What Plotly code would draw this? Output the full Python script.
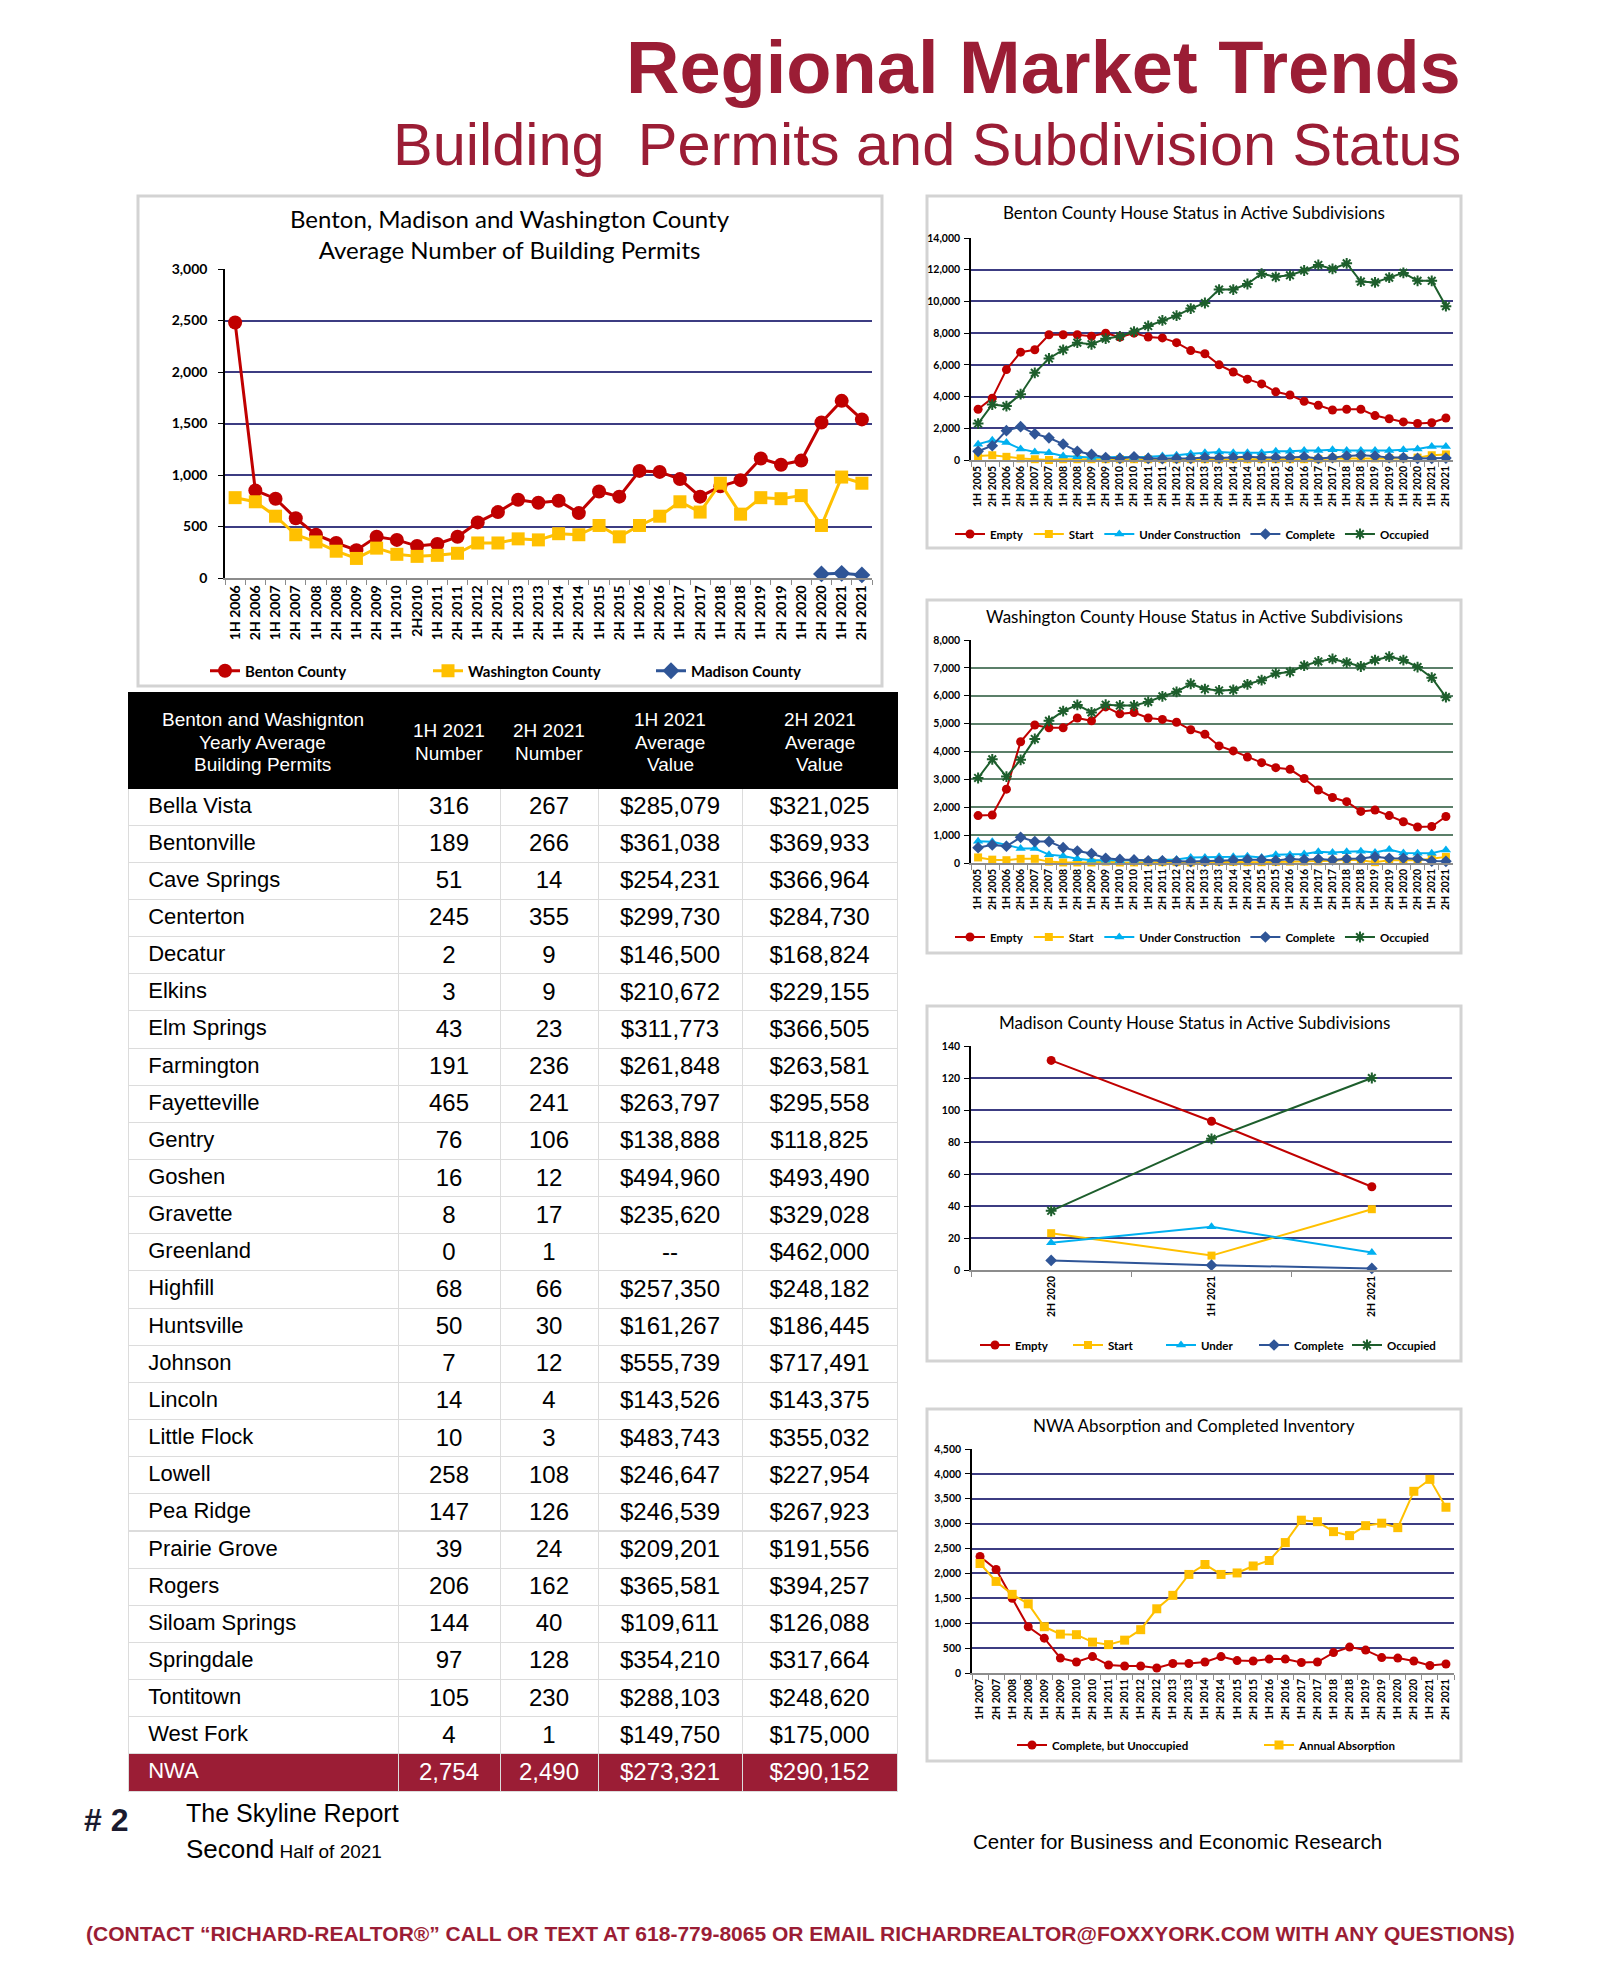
import plotly.graph_objects as go

W, H = 1600, 1962
BODY_MARGIN = 8  # the html page body adds an 8px margin around the plot div

# ---------------- data ----------------
PERMIT_PERIODS = [
    "1H 2006", "2H 2006", "1H 2007", "2H 2007", "1H 2008", "2H 2008", "1H 2009", "2H 2009",
    "1H 2010", "2H2010", "1H 2011", "2H 2011", "1H 2012", "2H 2012", "1H 2013", "2H 2013",
    "1H 2014", "2H 2014", "1H 2015", "2H 2015", "1H 2016", "2H 2016", "1H 2017", "2H 2017",
    "1H 2018", "2H 2018", "1H 2019", "2H 2019", "1H 2020", "2H 2020", "1H 2021", "2H 2021",
]
BENTON_PERMITS = [2480, 850, 770, 580, 420, 340, 270, 400, 370, 310, 330, 400, 540, 640, 760, 730,
                  750, 630, 840, 790, 1040, 1030, 960, 790, 890, 950, 1160, 1100, 1140, 1510, 1720, 1540]
WASHINGTON_PERMITS = [780, 740, 600, 420, 350, 260, 190, 290, 230, 210, 220, 240, 340, 340, 380, 370,
                      430, 420, 510, 400, 510, 600, 740, 640, 920, 620, 780, 770, 800, 510, 980, 920]
MADISON_PERIODS = ["2H 2020", "1H 2021", "2H 2021"]
MADISON_PERMITS = [40, 45, 30]

STATUS_PERIODS = [
    "1H 2005", "2H 2005", "1H 2006", "2H 2006", "1H 2007", "2H 2007", "1H 2008", "2H 2008",
    "1H 2009", "2H 2009", "1H 2010", "2H 2010", "1H 2011", "2H 2011", "1H 2012", "2H 2012",
    "1H 2013", "2H 2013", "1H 2014", "2H 2014", "1H 2015", "2H 2015", "1H 2016", "2H 2016",
    "1H 2017", "2H 2017", "1H 2018", "2H 2018", "1H 2019", "2H 2019", "1H 2020", "2H 2020",
    "1H 2021", "2H 2021",
]
BENTON_EMPTY = [3200, 3900, 5700, 6800, 6950, 7900, 7900, 7900, 7800, 8000, 7750, 8000, 7750, 7700, 7400, 6900,
                6700, 6000, 5550, 5100, 4800, 4300, 4100, 3700, 3450, 3150, 3200, 3200, 2800, 2600, 2400, 2300,
                2350, 2650]
BENTON_START = [250, 300, 200, 100, 50, 0, 50, 50, 50, 50, 50, 50, 50, 50, 50, 50,
                50, 50, 50, 50, 50, 50, 50, 50, 50, 100, 100, 100, 100, 100, 100, 150,
                300, 350]
BENTON_UNDER = [1000, 1250, 1100, 700, 500, 450, 250, 200, 150, 150, 200, 150, 200, 250, 300, 400,
                450, 500, 450, 450, 450, 550, 550, 600, 600, 650, 600, 600, 600, 600, 650, 700,
                850, 850]
BENTON_COMPLETE = [550, 900, 1850, 2100, 1650, 1400, 1000, 550, 350, 150, 100, 200, 100, 80, 100, 100,
                   150, 120, 150, 200, 150, 150, 150, 200, 100, 150, 250, 300, 250, 150, 150, 100,
                   100, 120]
BENTON_OCCUPIED = [2300, 3500, 3400, 4150, 5500, 6400, 6950, 7400, 7300, 7650, 7800, 8100, 8450, 8800, 9100, 9550,
                   9900, 10750, 10750, 11100, 11750, 11550, 11650, 11950, 12300, 12050, 12400, 11250, 11200, 11500,
                   11800, 11300, 11300, 9700]

WASH_EMPTY = [1700, 1720, 2650, 4350, 4950, 4850, 4850, 5200, 5100, 5600, 5350, 5400, 5200, 5150, 5050, 4780,
              4620, 4200, 4020, 3800, 3600, 3420, 3360, 3030, 2620, 2350, 2200, 1850, 1900, 1700, 1480, 1290,
              1310, 1670]
WASH_START = [200, 120, 100, 150, 150, 50, 20, 20, 20, 50, 20, 20, 30, 30, 30, 20,
              40, 40, 40, 30, 30, 40, 50, 50, 60, 80, 120, 100, 30, 100, 100, 100,
              150, 220]
WASH_UNDER = [780, 760, 650, 520, 520, 300, 250, 150, 100, 100, 80, 100, 100, 120, 130, 200,
              200, 220, 220, 240, 200, 300, 300, 320, 400, 380, 400, 420, 380, 480, 360, 350,
              350, 470]
WASH_COMPLETE = [550, 650, 600, 920, 770, 770, 550, 430, 340, 170, 130, 110, 80, 80, 60, 50,
                 60, 80, 100, 120, 120, 90, 140, 120, 140, 110, 150, 160, 220, 170, 170, 150,
                 70, 60]
WASH_OCCUPIED = [3050, 3720, 3100, 3700, 4450, 5100, 5450, 5670, 5400, 5680, 5650, 5650, 5780, 5980, 6140, 6430,
                 6240, 6190, 6210, 6410, 6560, 6800, 6850, 7080, 7230, 7320, 7190, 7050, 7280, 7400, 7280, 7030,
                 6650, 5950]

MADISON_STATUS_PERIODS = ["2H 2020", "1H 2021", "2H 2021"]
MAD_EMPTY = [131, 93, 52]
MAD_START = [23, 9, 38]
MAD_UNDER = [17, 27, 11]
MAD_COMPLETE = [6, 3, 1]
MAD_OCCUPIED = [37, 82, 120]

NWA_PERIODS = STATUS_PERIODS[4:]
NWA_UNOCCUPIED = [2340, 2080, 1500, 930, 700, 300, 220, 330, 160, 140, 140, 100, 190, 190, 220, 330,
                  250, 240, 280, 280, 210, 220, 410, 520, 460, 310, 300, 240, 150, 180]
NWA_ABSORPTION = [2200, 1840, 1580, 1390, 930, 780, 770, 620, 570, 660, 870, 1290, 1560, 1980, 2180, 1980,
                  2010, 2150, 2260, 2620, 3070, 3040, 2840, 2760, 2960, 3010, 2920, 3650, 3890, 3330]

TABLE_HEADER = ["Benton and Washignton<br>Yearly Average<br>Building Permits", "1H 2021<br>Number",
                "2H 2021<br>Number", "1H 2021<br>Average<br>Value", "2H 2021<br>Average<br>Value"]
CITIES = ["Bella Vista", "Bentonville", "Cave Springs", "Centerton", "Decatur", "Elkins", "Elm Springs",
          "Farmington", "Fayetteville", "Gentry", "Goshen", "Gravette", "Greenland", "Highfill", "Huntsville",
          "Johnson", "Lincoln", "Little Flock", "Lowell", "Pea Ridge", "Prairie Grove", "Rogers",
          "Siloam Springs", "Springdale", "Tontitown", "West Fork"]
NUM_1H = [316, 189, 51, 245, 2, 3, 43, 191, 465, 76, 16, 8, 0, 68, 50, 7, 14, 10, 258, 147, 39, 206, 144, 97, 105, 4]
NUM_2H = [267, 266, 14, 355, 9, 9, 23, 236, 241, 106, 12, 17, 1, 66, 30, 12, 4, 3, 108, 126, 24, 162, 40, 128, 230, 1]
VAL_1H = [285079, 361038, 254231, 299730, 146500, 210672, 311773, 261848, 263797, 138888, 494960, 235620, None,
          257350, 161267, 555739, 143526, 483743, 246647, 246539, 209201, 365581, 109611, 354210, 288103, 149750]
VAL_2H = [321025, 369933, 366964, 284730, 168824, 229155, 366505, 263581, 295558, 118825, 493490, 329028, 462000,
          248182, 186445, 717491, 143375, 355032, 227954, 267923, 191556, 394257, 126088, 317664, 248620, 175000]
NWA_TOTAL = ["NWA", 2754, 2490, 273321, 290152]

# ---------------- styling ----------------
MAROON = "#9B1D35"
RED = "#C00000"
GOLD = "#FFC000"
SKY = "#00B0F0"
NAVY = "#2F5597"
GREEN = "#1D5E2C"
GRID_NAVY = "#3C3C82"
GRID_GREEN = "#5B7F69"
FRAME = "#D3D3D3"
CHART_FONT = "Lato"
PAGE_FONT = "Liberation Sans"

# table geometry (page pixels)
TABLE_X = [128, 398, 500, 598, 742, 897]
TABLE_TOP, HEADER_H, ROW_H = 692, 96, 37.15


def fx(p):
    return (p - BODY_MARGIN) / W


def fy(p):
    return 1 - (p - BODY_MARGIN) / H


def series(x, y, name, color, symbol, size, width, n, legend):
    sx = "" if n == 1 else str(n)
    open_sym = symbol.endswith("open")
    return go.Scatter(
        x=x, y=y, name=name, mode="lines+markers",
        line=dict(color=color, width=width),
        marker=dict(symbol=symbol, size=size, color=color,
                    line=dict(color=color, width=2 if open_sym else 0)),
        xaxis=f"x{sx}", yaxis=f"y{sx}", legend=legend, cliponaxis=False,
    )


def set_axes(fig, n, cats, x0, x1, ybot, ytop, ymax, dtick, grid, tsize, standoff=2):
    sx = "" if n == 1 else str(n)
    tick_font = dict(family=CHART_FONT, size=tsize, color="black", weight="bold")
    fig.update_layout(**{
        f"xaxis{sx}": dict(
            domain=[fx(x0), fx(x1)], anchor=f"y{sx}", type="category",
            categoryorder="array", categoryarray=cats, range=[-0.5, len(cats) - 0.5],
            tickangle=-90, tickfont=tick_font, showline=True, linecolor="#8C8C8C",
            linewidth=1.5, ticks="outside", tickson="boundaries", ticklen=5,
            tickcolor="#8C8C8C", showgrid=False, zeroline=False, automargin=False,
        ),
        f"yaxis{sx}": dict(
            domain=[fy(ybot), fy(ytop)], anchor=f"x{sx}", range=[0, ymax], dtick=dtick,
            tickformat=",", showgrid=True, gridcolor=grid, gridwidth=1.5, showline=True,
            linecolor="black", linewidth=1.5, ticks="outside", ticklen=5, tickcolor="black",
            zeroline=False, tickfont=tick_font, automargin=False, ticklabelstandoff=standoff,
        ),
    })


fig = go.Figure()

# main permits chart
fig.add_trace(series(PERMIT_PERIODS, BENTON_PERMITS, "Benton County", RED, "circle", 14, 3, 1, "legend"))
fig.add_trace(series(PERMIT_PERIODS, WASHINGTON_PERMITS, "Washington County", GOLD, "square", 13, 3, 1, "legend"))
fig.add_trace(series(MADISON_PERIODS, MADISON_PERMITS, "Madison County", NAVY, "diamond", 13, 3, 1, "legend"))
set_axes(fig, 1, PERMIT_PERIODS, 225, 872, 578, 269, 3000, 500, GRID_NAVY, 14, standoff=8)

STATUS_STYLE = [("Empty", RED, "circle", 9), ("Start", GOLD, "square", 8),
                ("Under Construction", SKY, "triangle-up", 9), ("Complete", NAVY, "diamond", 9),
                ("Occupied", GREEN, "asterisk-open", 9)]

# Benton
for (name, color, sym, size), vals in zip(STATUS_STYLE, [BENTON_EMPTY, BENTON_START, BENTON_UNDER,
                                                          BENTON_COMPLETE, BENTON_OCCUPIED]):
    fig.add_trace(series(STATUS_PERIODS, vals, name, color, sym, size, 2, 2, "legend2"))
set_axes(fig, 2, STATUS_PERIODS, 971, 1453, 460, 238, 14000, 2000, GRID_NAVY, 10.5)

# Washington
for (name, color, sym, size), vals in zip(STATUS_STYLE, [WASH_EMPTY, WASH_START, WASH_UNDER,
                                                          WASH_COMPLETE, WASH_OCCUPIED]):
    fig.add_trace(series(STATUS_PERIODS, vals, name, color, sym, size, 2, 3, "legend3"))
set_axes(fig, 3, STATUS_PERIODS, 971, 1453, 863, 640, 8000, 1000, GRID_GREEN, 10.5)

# Madison
MAD_NAMES = ["Empty", "Start", "Under", "Complete", "Occupied"]
for (name0, color, sym, size), name, vals in zip(STATUS_STYLE, MAD_NAMES, [MAD_EMPTY, MAD_START, MAD_UNDER,
                                                                           MAD_COMPLETE, MAD_OCCUPIED]):
    fig.add_trace(series(MADISON_STATUS_PERIODS, vals, name, color, sym, size, 2, 4, "legend4"))
set_axes(fig, 4, MADISON_STATUS_PERIODS, 971, 1452, 1270, 1046, 140, 20, GRID_NAVY, 10.5)

# NWA
fig.add_trace(series(NWA_PERIODS, NWA_UNOCCUPIED, "Complete, but Unoccupied", RED, "circle", 9, 2, 5, "legend5"))
fig.add_trace(series(NWA_PERIODS, NWA_ABSORPTION, "Annual Absorption", GOLD, "square", 9, 2, 5, "legend5"))
set_axes(fig, 5, NWA_PERIODS, 972, 1454, 1673, 1449, 4500, 500, GRID_NAVY, 10.5)


# table
def money(v):
    return "--" if v is None else f"${v:,}"


INDENT = "\u00a0\u00a0"
col_vals = [
    [INDENT + c for c in CITIES + [NWA_TOTAL[0]]],
    [str(v) for v in NUM_1H] + [f"{NWA_TOTAL[1]:,}"],
    [str(v) for v in NUM_2H] + [f"{NWA_TOTAL[2]:,}"],
    [money(v) for v in VAL_1H] + [money(NWA_TOTAL[3])],
    [money(v) for v in VAL_2H] + [money(NWA_TOTAL[4])],
]
n_rows = len(CITIES) + 1
fills = [["white"] * (n_rows - 1) + [MAROON] for _ in col_vals]
font_cols = [["black"] * (n_rows - 1) + ["white"] for _ in col_vals]
fig.add_trace(go.Table(
    domain=dict(x=[fx(TABLE_X[0]), fx(TABLE_X[-1])], y=[fy(1810), fy(TABLE_TOP)]),
    columnwidth=[b - a for a, b in zip(TABLE_X[:-1], TABLE_X[1:])],
    header=dict(values=[""] * 5, fill_color="black", line_color="black", height=HEADER_H),
    cells=dict(values=col_vals, fill_color=fills, line_color="#DCDCDC",
               align=["left", "center", "center", "center", "center"], height=ROW_H,
               font=dict(family=PAGE_FONT, size=[22, 24, 24, 24, 24], color=font_cols)),
))

legend_common = dict(orientation="h", xanchor="left", yanchor="middle", bgcolor="rgba(0,0,0,0)",
                     font=dict(family=CHART_FONT, size=11.5, color="black", weight="bold"))
fig.update_layout(
    width=W, height=H, margin=dict(l=0, r=0, t=0, b=0, autoexpand=False),
    paper_bgcolor="white", plot_bgcolor="white", showlegend=True,
    legend=dict(legend_common, x=fx(205), y=fy(671), entrywidth=178, entrywidthmode="pixels",
                font=dict(family=CHART_FONT, size=15, color="black", weight="bold")),
    legend2=dict(legend_common, x=fx(950), y=fy(534)),
    legend3=dict(legend_common, x=fx(950), y=fy(937)),
    legend4=dict(legend_common, x=fx(975), y=fy(1345), entrywidth=48, entrywidthmode="pixels"),
    legend5=dict(legend_common, x=fx(1012), y=fy(1745), entrywidth=202, entrywidthmode="pixels"),
)

# chart frames
for x0, y0, x1, y1 in [(138, 196, 882, 686), (927, 196, 1461, 548), (927, 600, 1461, 953),
                       (927, 1006, 1461, 1361), (927, 1409, 1461, 1761)]:
    fig.add_shape(type="rect", xref="paper", yref="paper", x0=fx(x0), x1=fx(x1), y0=fy(y1), y1=fy(y0),
                  line=dict(color=FRAME, width=3), layer="below")


def note(text, x, y, size, color="black", family=PAGE_FONT, xanchor="center", weight="normal"):
    fig.add_annotation(text=text, x=fx(x), y=fy(y), xref="paper", yref="paper", showarrow=False,
                       xanchor=xanchor, yanchor="middle",
                       font=dict(family=family, size=size, color=color, weight=weight))


# table header text, one annotation per line so the lines stay centred
for i, label in enumerate(TABLE_HEADER):
    lines = label.split("<br>")
    cx = (TABLE_X[i] + TABLE_X[i + 1]) / 2
    cy = TABLE_TOP + HEADER_H / 2 + 2
    for k, ln in enumerate(lines):
        note(ln, cx, cy + (k - (len(lines) - 1) / 2) * 22.5, 19, "white")

note("Regional Market Trends", 1463, 67, 74, MAROON, xanchor="right", weight="bold")
note("Building  Permits and Subdivision Status", 1463, 144, 59.5, MAROON, xanchor="right")
note("Benton, Madison and Washington County<br>Average Number of Building Permits", 510, 234, 24,
     family=CHART_FONT)
note("Benton County House Status in Active Subdivisions", 1194, 213, 17, family=CHART_FONT)
note("Washington County House Status in Active Subdivisions", 1194, 617, 17, family=CHART_FONT)
note("Madison County House Status in Active Subdivisions", 1194, 1023, 17, family=CHART_FONT)
note("NWA Absorption and Completed Inventory", 1194, 1425, 17, family=CHART_FONT)
note("# 2", 106, 1820, 32, "#1A1A2E", weight="bold")
note("The Skyline Report", 184, 1813, 25, xanchor="left")
note("<span style='font-size:26px'>Second</span> Half of 2021", 184, 1849, 19, xanchor="left")
note("Center for Business and Economic Research", 971, 1841, 20.5, xanchor="left")
note("(CONTACT “RICHARD-REALTOR®” CALL OR TEXT AT 618-779-8065 OR EMAIL RICHARDREALTOR@FOXXYORK.COM "
     "WITH ANY QUESTIONS)", 800, 1933, 21, MAROON, weight="bold")

fig.write_html("out.html")
